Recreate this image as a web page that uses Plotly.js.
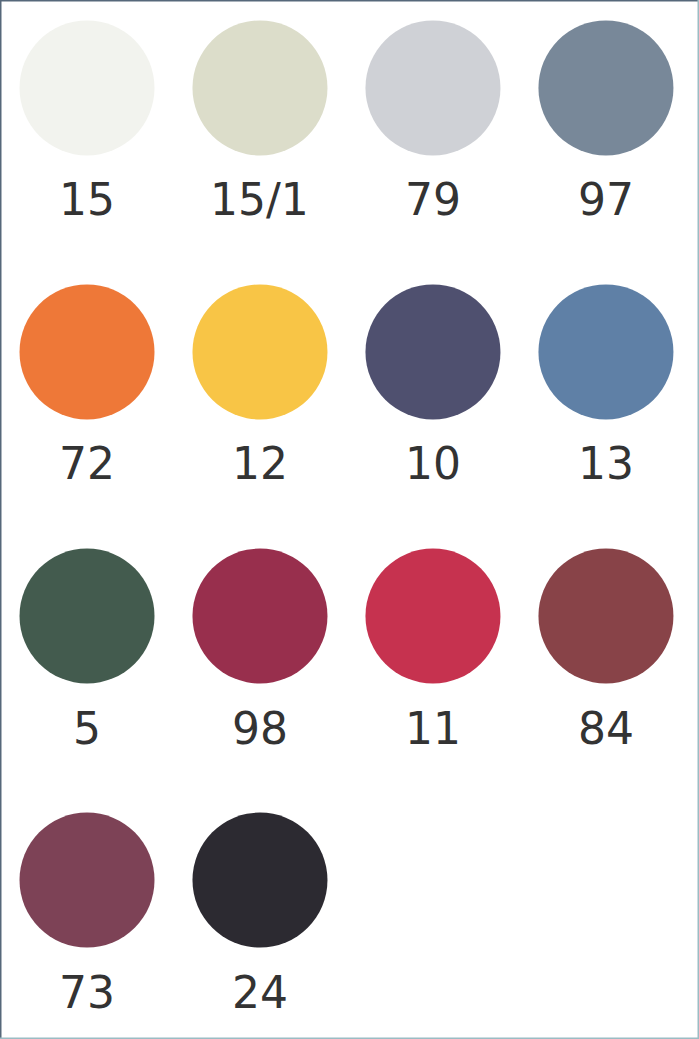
<!DOCTYPE html>
<html>
<head>
<meta charset="utf-8">
<script src="https://cdn.plot.ly/plotly-3.0.1.min.js"></script>
<style>html,body{margin:0;padding:0;background:#fff;}#chart{width:699px;height:1039px;}</style>
</head>
<body>
<div id="chart"></div>
<script>
// Colour codes (labels) and swatch colours, read left-to-right, top-to-bottom
const labels = ["15", "15/1", "79", "97", "72", "12", "10", "13", "5", "98", "11", "84", "73", "24"];
const colors = ["#f2f3ee", "#dcddca", "#cfd1d6", "#788899", "#ee7838", "#f8c546", "#4f506f", "#5f80a6", "#435b4e", "#982f4d", "#c6324f", "#884348", "#7d4256", "#2c2a31"];
const columnsPerRow = 4;

const cols = labels.map((_, i) => i % columnsPerRow);
const rows = labels.map((_, i) => Math.floor(i / columnsPerRow));

const trace = {
  type: "scatter",
  mode: "markers",
  x: cols,
  y: rows,
  text: labels,
  hoverinfo: "text",
  marker: { size: 135, color: colors, line: { width: 0 }, opacity: 1 }
};

const annotations = labels.map((t, i) => ({
  x: cols[i], y: rows[i], xref: "x", yref: "y",
  text: t, showarrow: false, yshift: -112,
  font: { family: "DejaVu Sans, Noto Sans, sans-serif", size: 44, color: "#333333" },
  xanchor: "center", yanchor: "middle"
}));

const layout = {
  width: 699, height: 1039,
  margin: { l: 0, r: 0, t: 0, b: 0, pad: 0 },
  paper_bgcolor: "#ffffff", plot_bgcolor: "#ffffff",
  showlegend: false,
  xaxis: { range: [-0.503, 3.538], visible: false, fixedrange: true },
  yaxis: { range: [3.602, -0.333], visible: false, fixedrange: true },
  annotations: annotations,
  shapes: [
    { type: "line", xref: "paper", yref: "paper", x0: 0, x1: 1, y0: 1, y1: 1, line: { color: "#56687a", width: 3 } },
    { type: "line", xref: "paper", yref: "paper", x0: 0, x1: 0, y0: 0, y1: 1, line: { color: "#56687a", width: 3 } },
    { type: "line", xref: "paper", yref: "paper", x0: 1, x1: 1, y0: 0, y1: 1, line: { color: "#9bbcc4", width: 3 } },
    { type: "line", xref: "paper", yref: "paper", x0: 0, x1: 1, y0: 0, y1: 0, line: { color: "#9bbcc4", width: 3 } }
  ]
};

Plotly.newPlot("chart", [trace], layout, { displayModeBar: false, staticPlot: true });
</script>
</body>
</html>
